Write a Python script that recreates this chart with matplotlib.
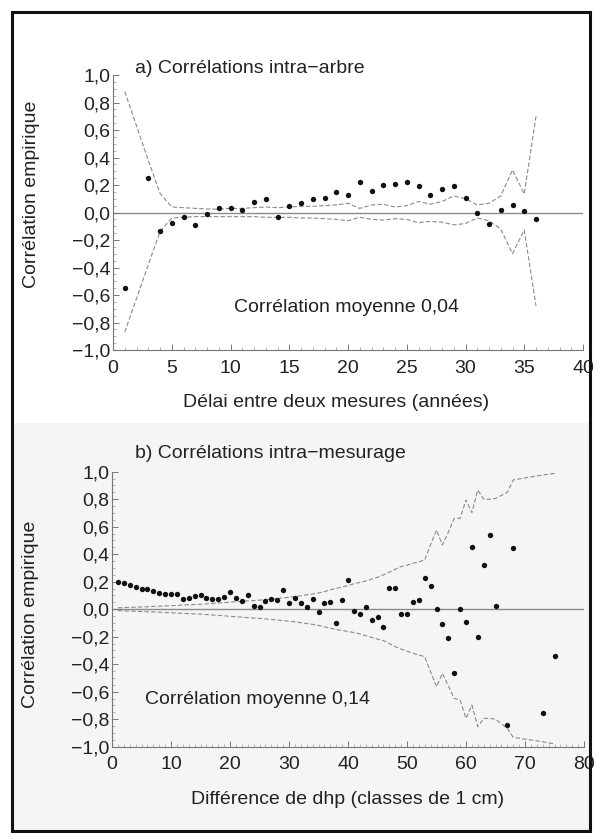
import numpy as np
import matplotlib
matplotlib.use('Agg')
import matplotlib.pyplot as plt
from matplotlib.patches import Rectangle
from matplotlib.ticker import MultipleLocator, FuncFormatter

plt.rcParams['font.family'] = ['Liberation Sans', 'DejaVu Sans']

# ---------- a) intra-arbre ----------
delai = [1, 3, 4, 5, 6, 7, 8, 9, 10, 11, 12, 13, 14, 15, 16, 17, 18, 19, 20,
         21, 22, 23, 24, 25, 26, 27, 28, 29, 30, 31, 32, 33, 34, 35, 36]
corr_a = [-0.55, 0.25, -0.135, -0.076, -0.033, -0.09, -0.01, 0.03, 0.03, 0.015,
          0.074, 0.096, -0.03, 0.047, 0.067, 0.098, 0.105, 0.15, 0.125, 0.22,
          0.16, 0.20, 0.207, 0.22, 0.19, 0.127, 0.17, 0.19, 0.105, -0.004,
          -0.08, 0.018, 0.055, 0.013, -0.045]
haut_a = [0.88, 0.38, 0.14, 0.04, 0.035, 0.03, 0.025, 0.025, 0.03, 0.03,
          0.035, 0.04, 0.035, 0.04, 0.045, 0.045, 0.05, 0.055, 0.067, 0.03,
          0.055, 0.06, 0.04, 0.05, 0.08, 0.06, 0.08, 0.12, 0.10, 0.055,
          0.067, 0.12, 0.31, 0.135, 0.70]
bas_a = [-0.87, -0.38, -0.14, -0.04, -0.035, -0.03, -0.03, -0.03, -0.03, -0.03,
         -0.03, -0.035, -0.035, -0.035, -0.04, -0.04, -0.045, -0.05, -0.06, -0.035,
         -0.05, -0.055, -0.045, -0.05, -0.074, -0.065, -0.07, -0.09, -0.08, -0.04,
         -0.06, -0.12, -0.30, -0.127, -0.68]

# ---------- b) intra-mesurage ----------
dhp = list(range(1, 66)) + [67, 68, 73, 75]
corr_b = [0.196, 0.19, 0.176, 0.159, 0.145, 0.145, 0.132, 0.12, 0.113, 0.108,
          0.108, 0.074, 0.084, 0.098, 0.101, 0.079, 0.074, 0.074, 0.087, 0.123,
          0.084, 0.06, 0.101, 0.023, 0.018, 0.06, 0.074, 0.065, 0.137, 0.043,
          0.084, 0.043, 0.018, 0.074, -0.023, 0.043, 0.055, -0.103, 0.067, 0.212,
          -0.011, -0.037, 0.018, -0.079, -0.054, -0.127, 0.152, 0.152, -0.037, -0.037,
          0.05, 0.065, 0.229, 0.171, 0.004, -0.108, -0.212, -0.466, 0.004, -0.093,
          0.452, -0.204, 0.319, 0.54, 0.023,
          -0.842, 0.447, -0.753, -0.343]
haut_b = [0.010, 0.012, 0.013, 0.015, 0.016, 0.018, 0.020, 0.022, 0.024, 0.026,
          0.028, 0.030, 0.032, 0.034, 0.036, 0.039, 0.042, 0.045, 0.048, 0.051,
          0.054, 0.057, 0.060, 0.063, 0.066, 0.070, 0.074, 0.078, 0.082, 0.086,
          0.092, 0.098, 0.104, 0.110, 0.118, 0.128, 0.140, 0.152, 0.160, 0.172,
          0.185, 0.195, 0.205, 0.218, 0.232, 0.250, 0.270, 0.290, 0.310, 0.320,
          0.334, 0.345, 0.358, 0.470, 0.576, 0.467, 0.560, 0.661, 0.661, 0.794,
          0.702, 0.867, 0.800, 0.800, 0.805,
          0.850, 0.940, 0.976, 0.988]
bas_b = [-0.010, -0.012, -0.014, -0.015, -0.017, -0.018, -0.020, -0.022, -0.024, -0.026,
         -0.028, -0.030, -0.032, -0.034, -0.036, -0.039, -0.042, -0.045, -0.048, -0.052,
         -0.055, -0.058, -0.061, -0.064, -0.067, -0.071, -0.075, -0.079, -0.083, -0.087,
         -0.092, -0.098, -0.104, -0.110, -0.118, -0.128, -0.138, -0.148, -0.155, -0.162,
         -0.170, -0.180, -0.192, -0.205, -0.218, -0.228, -0.250, -0.272, -0.290, -0.305,
         -0.321, -0.333, -0.345, -0.455, -0.564, -0.466, -0.557, -0.648, -0.660, -0.794,
         -0.697, -0.855, -0.794, -0.794, -0.800,
         -0.866, -0.932, -0.964, -0.980]

TXT = '#222222'
FS = 14


def virgule(v, pos):
    s = f"{v:.1f}".replace('.', ',')
    if v < -1e-9:
        s = '\u2212' + s[1:]
    elif s.startswith('-'):
        s = s[1:]
    return s


def panneau(ax, x, y, haut, bas, xmax, xstep, titre, tx, ty, note, nx, ny,
            xlabel, ylab_y, xlab_x):
    ax.set_facecolor('none')
    ax.axhline(0, color='#8a8a8a', lw=1.0, zorder=1)
    ax.plot(x, haut, color='#8a8a8a', lw=0.8, ls=(0, (4, 2)), zorder=2)
    ax.plot(x, bas, color='#8a8a8a', lw=0.8, ls=(0, (4, 2)), zorder=2)
    ax.scatter(x, y, s=15, color='#111111', zorder=3, linewidths=0)
    ax.set_xlim(0, xmax)
    ax.set_ylim(-1, 1)
    for s in ['top', 'right']:
        ax.spines[s].set_visible(False)
    for s in ['left', 'bottom']:
        ax.spines[s].set_color('#777777')
        ax.spines[s].set_linewidth(0.8)
    ax.xaxis.set_major_locator(MultipleLocator(xstep))
    ax.xaxis.set_minor_locator(MultipleLocator(1))
    ax.yaxis.set_major_locator(MultipleLocator(0.2))
    ax.yaxis.set_minor_locator(MultipleLocator(0.05))
    ax.yaxis.set_major_formatter(FuncFormatter(virgule))
    ax.tick_params(which='major', direction='in', length=4, width=0.7,
                   color='#777777', labelsize=FS, labelcolor=TXT, pad=2)
    ax.tick_params(which='minor', direction='in', length=2, width=0.5, color='#999999')
    ax.tick_params(axis='x', pad=7)
    ax.text(tx, ty, titre, fontsize=FS, color=TXT, ha='left', va='center', clip_on=False)
    ax.text(nx, ny, note, fontsize=FS, color=TXT, ha='center', va='center')
    ax.set_xlabel(xlabel, fontsize=FS, color=TXT)
    ax.set_ylabel('Corrélation empirique', fontsize=FS, color=TXT)
    ax.yaxis.set_label_coords(-0.155, ylab_y)
    ax.xaxis.set_label_coords(xlab_x, -0.16)


fig = plt.figure(figsize=(6, 8.4), dpi=100)

# fond gris clair du panneau b et cadre
fig.patches.append(Rectangle((13 / 600, 10 / 840), 577 / 600, 407 / 840,
                             transform=fig.transFigure, facecolor='#f5f5f5',
                             edgecolor='none', zorder=-5))
fig.patches.append(Rectangle((12 / 600, 9 / 840), 578 / 600, 819 / 840,
                             transform=fig.transFigure, facecolor='none',
                             edgecolor='#111111', lw=2.2, zorder=5))

ax1 = fig.add_axes([113 / 600, 1 - 350 / 840, 470 / 600, 275 / 840])
panneau(ax1, delai, corr_a, haut_a, bas_a, 40, 5,
        'a) Corrélations intra\u2212arbre', 1.9, 1.05,
        'Corrélation moyenne 0,04', 19.9, -0.69,
        'Délai entre deux mesures (années)', 0.565, 0.475)

ax2 = fig.add_axes([112 / 600, 1 - 746.7 / 840, 472 / 600, 275 / 840])
panneau(ax2, dhp, corr_b, haut_b, bas_b, 80, 10,
        'b) Corrélations intra\u2212mesurage', 3.9, 1.13,
        'Corrélation moyenne 0,14', 24.7, -0.66,
        'Différence de dhp (classes de 1 cm)', 0.48, 0.499)

fig.savefig('out.png', dpi=100)
